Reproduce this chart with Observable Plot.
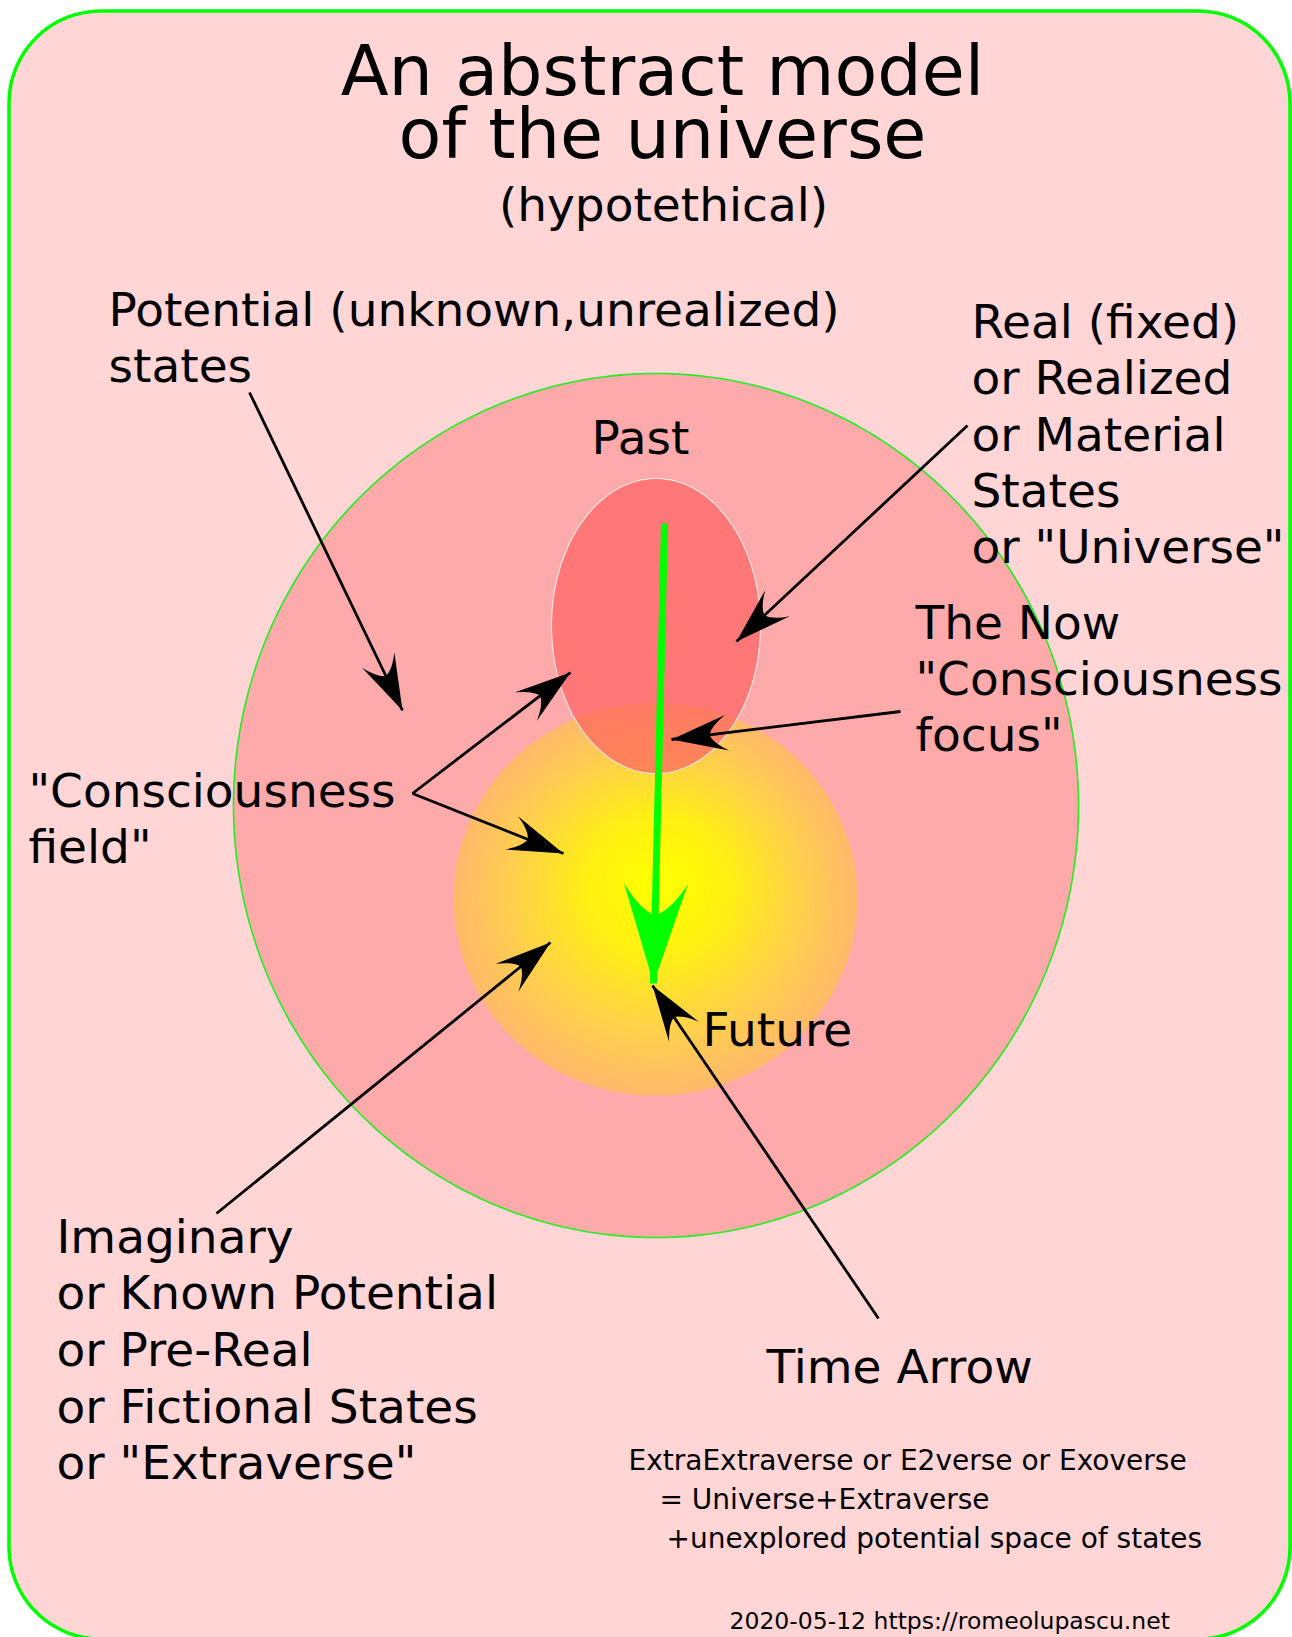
<!DOCTYPE html>
<html>
<head>
<meta charset="utf-8">
<script src="https://cdn.jsdelivr.net/npm/d3@7"></script>
<script src="https://cdn.jsdelivr.net/npm/@observablehq/plot@0.6"></script>
<style>
  html, body { margin: 0; padding: 0; background: #ffffff; overflow: hidden; }
  #chart svg { display: block; }
</style>
</head>
<body>
<div id="chart"></div>
<script>
const W = 1292, H = 1637;

// ---- data (diagram coordinates, y grows downward) ----
const frame = [{x1: 9, y1: 11, x2: 1290, y2: 1639}];

const regions = [
  {name: "Exoverse", cx: 655.5, cy: 805, rx: 422.5, ry: 432},
  {name: "Consciousness field", cx: 655, cy: 898.5, rx: 202, ry: 196.5},
  {name: "Universe", cx: 655.5, cy: 625.5, rx: 104.5, ry: 147.5}
];

const timeArrow = [{x1: 664, y1: 523, x2: 653, y2: 983}];

const pointers = [
  {from: "Potential states", x1: 249, y1: 392, x2: 402, y2: 710},
  {from: "Real states", x1: 967, y1: 425, x2: 736, y2: 641},
  {from: "The Now", x1: 900, y1: 711, x2: 671, y2: 739},
  {from: "Consciousness field (past)", x1: 412, y1: 793, x2: 570, y2: 672},
  {from: "Consciousness field (future)", x1: 412, y1: 793, x2: 563, y2: 853},
  {from: "Imaginary", x1: 216, y1: 1213, x2: 550, y2: 942},
  {from: "Time Arrow", x1: 878, y1: 1318, x2: 652, y2: 985}
];

const titleLines = [
  {text: "An abstract model", x: 662, y: 94},
  {text: "of the universe", x: 662, y: 157}
];
const subtitleLines = [
  {text: "(hypotethical)", x: 663, y: 220}
];
const centredLabels = [
  {text: "Past", x: 640, y: 453}
];
const labelLines = [
  {text: "Potential (unknown,unrealized)", x: 108, y: 325},
  {text: "states", x: 108, y: 381},
  {text: "Real (fixed)", x: 971, y: 337},
  {text: "or Realized", x: 971, y: 393},
  {text: "or Material", x: 971, y: 450},
  {text: "States", x: 971, y: 506},
  {text: "or \"Universe\"", x: 971, y: 562},
  {text: "The Now", x: 915, y: 638},
  {text: "\"Consciousness", x: 915, y: 694},
  {text: "focus\"", x: 915, y: 750},
  {text: "\"Consciousness", x: 28, y: 806},
  {text: "field\"", x: 28, y: 862},
  {text: "Future", x: 702, y: 1045},
  {text: "Imaginary", x: 56, y: 1252},
  {text: "or Known Potential", x: 56, y: 1308},
  {text: "or Pre-Real", x: 56, y: 1365},
  {text: "or Fictional States", x: 56, y: 1422},
  {text: "or \"Extraverse\"", x: 56, y: 1478},
  {text: "Time Arrow", x: 766, y: 1382}
];
const noteLines = [
  {text: "ExtraExtraverse or E2verse or Exoverse", x: 628, y: 1469},
  {text: "= Universe+Extraverse", x: 659, y: 1508},
  {text: "+unexplored potential space of states", x: 666, y: 1547}
];
const creditLines = [
  {text: "2020-05-12 https://romeolupascu.net", x: 729, y: 1628}
];

// ---- helpers ----
const angles = d3.range(0, 360, 1);
function outline(name) {
  const r = regions.find(d => d.name === name);
  return angles.map(a => ({
    x: r.cx + r.rx * Math.cos(a * Math.PI / 180),
    y: r.cy + r.ry * Math.sin(a * Math.PI / 180)
  }));
}

// concave arrowhead, tip at the origin, pointing up
const barb = {
  draw(ctx, size) {
    const L = Math.sqrt(size / Math.PI), w = 0.32 * L, n = 0.68 * L;
    ctx.moveTo(0, 0);
    ctx.lineTo(w, L);
    ctx.quadraticCurveTo(0.5 * w, n + 0.06 * L, 0, n);
    ctx.quadraticCurveTo(-0.5 * w, n + 0.06 * L, -w, L);
    ctx.closePath();
  }
};
const heading = d => Math.atan2(d.x2 - d.x1, -(d.y2 - d.y1)) * 180 / Math.PI;

function gradientDefs() {
  const defs = d3.create("svg:defs");
  const g = defs.append("radialGradient")
    .attr("id", "glow")
    .attr("cx", 0.5).attr("cy", 0.5).attr("r", 0.5)
    .attr("fx", 0.51).attr("fy", 0.45);
  [[0, "#ffff00", 1], [0.35, "#fff012", 1], [0.7, "#ffd443", 0.93], [1, "#ffc052", 0.72]]
    .forEach(([o, c, a]) => g.append("stop").attr("offset", o).attr("stop-color", c).attr("stop-opacity", a));
  return defs.node();
}

const chart = Plot.plot({
  width: W,
  height: H,
  margin: 0,
  x: {domain: [0, W], range: [0, W], axis: null},
  y: {domain: [0, H], range: [0, H], axis: null},
  style: {background: "#ffffff", fontFamily: "'DejaVu Sans', sans-serif", color: "#000000"},
  marks: [
    gradientDefs,
    Plot.rect(frame, {x1: "x1", y1: "y1", x2: "x2", y2: "y2", rx: 92, fill: "#ffd5d5", stroke: "#00ff00", strokeWidth: 3.5}),
    Plot.line(outline("Exoverse"), {x: "x", y: "y", curve: "linear-closed", fill: "#ffaaaa", stroke: "#22ee22", strokeWidth: 1.6}),
    Plot.line(outline("Consciousness field"), {x: "x", y: "y", curve: "linear-closed", fill: "url(#glow)", stroke: "none"}),
    Plot.line(outline("Universe"), {x: "x", y: "y", curve: "linear-closed", fill: "#ff6161", fillOpacity: 0.7, stroke: "#ffe2e2", strokeWidth: 1.2}),
    Plot.link(timeArrow, {x1: "x1", y1: "y1", x2: "x2", y2: "y2", stroke: "#00ff00", strokeWidth: 7}),
    Plot.dot(timeArrow, {x: "x2", y: "y2", r: 100, symbol: barb, fill: "#00ff00", stroke: "none", rotate: heading}),
    Plot.link(pointers, {x1: "x1", y1: "y1", x2: "x2", y2: "y2", stroke: "#000000", strokeWidth: 2.8}),
    Plot.dot(pointers, {x: "x2", y: "y2", r: 56, symbol: barb, fill: "#000000", stroke: "none", rotate: heading}),
    Plot.text(titleLines, {x: "x", y: "y", text: "text", fontSize: 70, textAnchor: "middle", lineAnchor: "bottom", fill: "#000000"}),
    Plot.text(subtitleLines, {x: "x", y: "y", text: "text", fontSize: 47, textAnchor: "middle", lineAnchor: "bottom", fill: "#000000"}),
    Plot.text(centredLabels, {x: "x", y: "y", text: "text", fontSize: 47, textAnchor: "middle", lineAnchor: "bottom", fill: "#000000"}),
    Plot.text(labelLines, {x: "x", y: "y", text: "text", fontSize: 47, textAnchor: "start", lineAnchor: "bottom", fill: "#000000"}),
    Plot.text(noteLines, {x: "x", y: "y", text: "text", fontSize: 28, textAnchor: "start", lineAnchor: "bottom", fill: "#000000"}),
    Plot.text(creditLines, {x: "x", y: "y", text: "text", fontSize: 23.5, textAnchor: "start", lineAnchor: "bottom", fill: "#000000"})
  ]
});
document.getElementById("chart").appendChild(chart);
</script>
</body>
</html>
